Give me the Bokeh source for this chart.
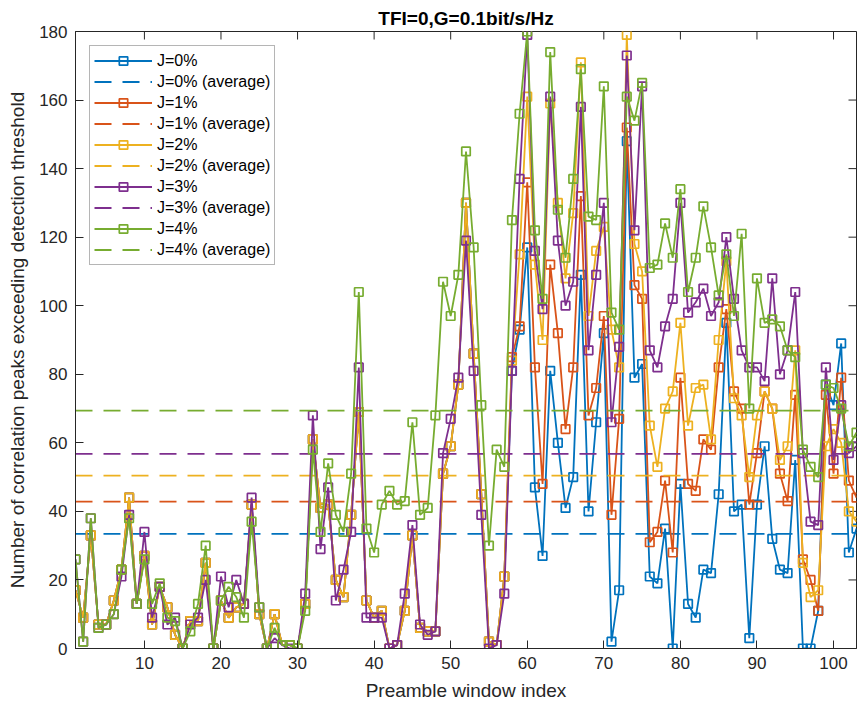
from bokeh.plotting import figure
from bokeh.models import Range1d, FixedTicker, Legend, LegendItem
from bokeh.embed import file_html
from bokeh.resources import INLINE
import numpy as np

# Preamble window indices 1..103
window_index = list(range(1, 104))

# Number of correlation peaks above the detection threshold, per jamming level
j0 = [17, 9, 33, 7, 7, 14, 23, 44, 13, 27, 7, 18, 12, 4, 0, 8, 8, 25, 0, 14,
      9, 12, 13, 42, 10, 0, 10, 1, 1, 0, 13, 61, 41, 42, 20, 15, 39, 69, 14, 9,
      11, 0, 1, 11, 33, 6, 5, 5, 51, 59, 77, 130, 86, 45, 2, 1, 21,
      81, 93, 117, 47, 27, 81, 60, 41, 50, 109, 40, 66, 92, 2, 17, 148, 79, 83, 21, 19,
      35, 0, 48, 13, 9, 23, 22, 45, 95, 40, 42, 3, 42, 59, 32, 23, 22, 55, 0, 0,
      11, 77, 71, 89, 28, 35]
j1 = [17, 9, 33, 7, 7, 14, 23, 44, 13, 27, 7, 18, 12, 4, 0, 8, 8, 25, 0, 14,
      9, 12, 13, 42, 10, 0, 10, 1, 1, 0, 13, 61, 41, 42, 20, 15, 39, 69, 14, 9,
      11, 0, 1, 11, 33, 6, 5, 5, 51, 59, 77, 130, 86, 45, 2, 1, 21,
      85, 94, 136, 82, 48, 112, 92, 64, 82, 132, 68, 76, 97, 39, 67, 152, 106, 102, 31, 34,
      49, 28, 79, 48, 46, 61, 58, 82, 99, 75, 70, 42, 57, 75, 70, 51, 43, 74, 26, 20,
      11, 74, 51, 79, 49, 44]
j2 = [17, 9, 33, 7, 7, 14, 23, 44, 13, 27, 7, 18, 12, 4, 0, 8, 8, 25, 0, 14,
      9, 12, 13, 42, 10, 0, 10, 1, 1, 0, 13, 61, 41, 42, 20, 15, 39, 69, 14, 9,
      11, 0, 1, 11, 33, 6, 5, 5, 51, 59, 77, 130, 86, 45, 2, 1, 21,
      84, 115, 161, 112, 90, 159, 130, 108, 127, 171, 97, 116, 123, 93, 82, 179, 118, 110, 65, 53,
      70, 75, 95, 65, 76, 77, 61, 90, 113, 73, 68, 50, 68, 75, 70, 55, 59, 87, 25, 15,
      17, 59, 64, 60, 40, 37]
j3 = [26, 2, 38, 6, 7, 10, 21, 39, 13, 34, 9, 18, 7, 9, 0, 7, 9, 20, 0, 21,
      12, 20, 13, 44, 12, 0, 3, 1, 0, 0, 16, 68, 29, 47, 14, 23, 34, 82, 9, 9,
      9, 0, 1, 16, 36, 7, 4, 5, 57, 67, 79, 119, 81, 39, 0, 1, 16,
      81, 137, 179, 116, 99, 161, 119, 100, 107, 158, 87, 109, 130, 66, 88, 173, 122, 164, 87, 82,
      94, 102, 130, 98, 101, 105, 97, 101, 120, 102, 87, 82, 82, 78, 108, 80, 87, 104, 57, 37,
      36, 82, 55, 71, 57, 59]
j4 = [26, 2, 38, 6, 7, 10, 23, 38, 13, 26, 13, 19, 9, 8, 0, 5, 13, 30, 0, 14,
      18, 15, 9, 37, 12, 0, 6, 1, 1, 0, 11, 58, 34, 54, 39, 34, 51, 104, 35, 28,
      42, 46, 42, 43, 66, 39, 41, 68, 107, 97, 109, 145, 117, 71, 30, 58, 53,
      125, 156, 180, 122, 102, 174, 128, 114, 137, 169, 126, 125, 164, 98, 93, 161, 154, 165, 111, 112,
      124, 114, 134, 104, 114, 129, 117, 103, 115, 97, 121, 70, 108, 95, 96, 94, 87, 85, 58, 53,
      50, 77, 76, 70, 59, 63]

series_names = ["J=0%", "J=1%", "J=2%", "J=3%", "J=4%"]
series_values = [j0, j1, j2, j3, j4]
series_colors = ["#0072BD", "#D95319", "#EDB120", "#7E2F8E", "#77AC30"]

x_ticks = [10, 20, 30, 40, 50, 60, 70, 80, 90, 100]
y_ticks = [0, 20, 40, 60, 80, 100, 120, 140, 160, 180]

FONT = "Liberation Sans"
INK = "#262626"

p = figure(
    width=857, height=708,
    output_backend="svg", toolbar_location=None,
    x_range=Range1d(1, 103), y_range=Range1d(0, 180),
    min_border_left=75, min_border_right=1, min_border_top=31, min_border_bottom=60,
    x_axis_label="Preamble window index",
    y_axis_label="Number of correlation peaks exceeding detection threshold",
)
p.background_fill_color = "white"
p.border_fill_color = "white"
p.outline_line_color = INK
p.outline_line_width = 1
p.xgrid.visible = False
p.ygrid.visible = False

p.title.text = "TFI=0,G=0.1bit/s/Hz"
p.title.align = "center"
p.title.text_font = FONT
p.title.text_font_size = "19px"
p.title.text_font_style = "bold"
p.title.text_color = "#000000"
p.title.standoff = 5

x_axis = p.xaxis[0]
y_axis = p.yaxis[0]
for ax, ticks in ((x_axis, x_ticks), (y_axis, y_ticks)):
    ax.ticker = FixedTicker(ticks=ticks)
    ax.axis_line_color = INK
    ax.axis_line_width = 1
    ax.major_tick_line_color = INK
    ax.major_tick_in = 8
    ax.major_tick_out = 0
    ax.minor_tick_in = 0
    ax.minor_tick_out = 0
    ax.major_label_text_font = FONT
    ax.major_label_text_font_size = "17px"
    ax.major_label_text_color = INK
    ax.major_label_standoff = 8
    ax.axis_label_text_font = FONT
    ax.axis_label_text_font_size = "19px"
    ax.axis_label_text_font_style = "normal"
    ax.axis_label_text_color = INK
    ax.axis_label_standoff = 8

# inward tick marks on the top and right edges of the box
p.ray(x=x_ticks, y=[p.y_range.end] * len(x_ticks), length=8, length_units="screen",
      angle=-np.pi / 2, line_color=INK, line_width=1)
p.ray(x=[p.x_range.end] * len(y_ticks), y=y_ticks, length=8, length_units="screen",
      angle=np.pi, line_color=INK, line_width=1)

items = []
for name, vals, color in zip(series_names, series_values, series_colors):
    r_line = p.line(window_index, vals, line_color=color, line_width=1.8)
    r_pts = p.scatter(window_index, vals, marker="square", size=8.5,
                      line_color=color, fill_color=None, line_width=1.7)
    mean_val = float(np.mean(vals))
    r_avg = p.line([window_index[0], window_index[-1]], [mean_val, mean_val],
                   line_color=color, line_width=1.8, line_dash="17 11")
    items.append(LegendItem(label=name, renderers=[r_line, r_pts]))
    items.append(LegendItem(label=name + " (average)", renderers=[r_avg]))

legend = Legend(
    items=items, location="top_left", margin=14, padding=4, spacing=0,
    label_height=21, glyph_height=21, glyph_width=58, label_standoff=5,
    label_text_font=FONT, label_text_font_size="16px", label_text_color="#000000",
    border_line_color="#6b6b6b", border_line_width=1,
    background_fill_color="white", background_fill_alpha=1.0,
)
p.add_layout(legend)

open("out.html", "w").write(file_html(p, INLINE))
